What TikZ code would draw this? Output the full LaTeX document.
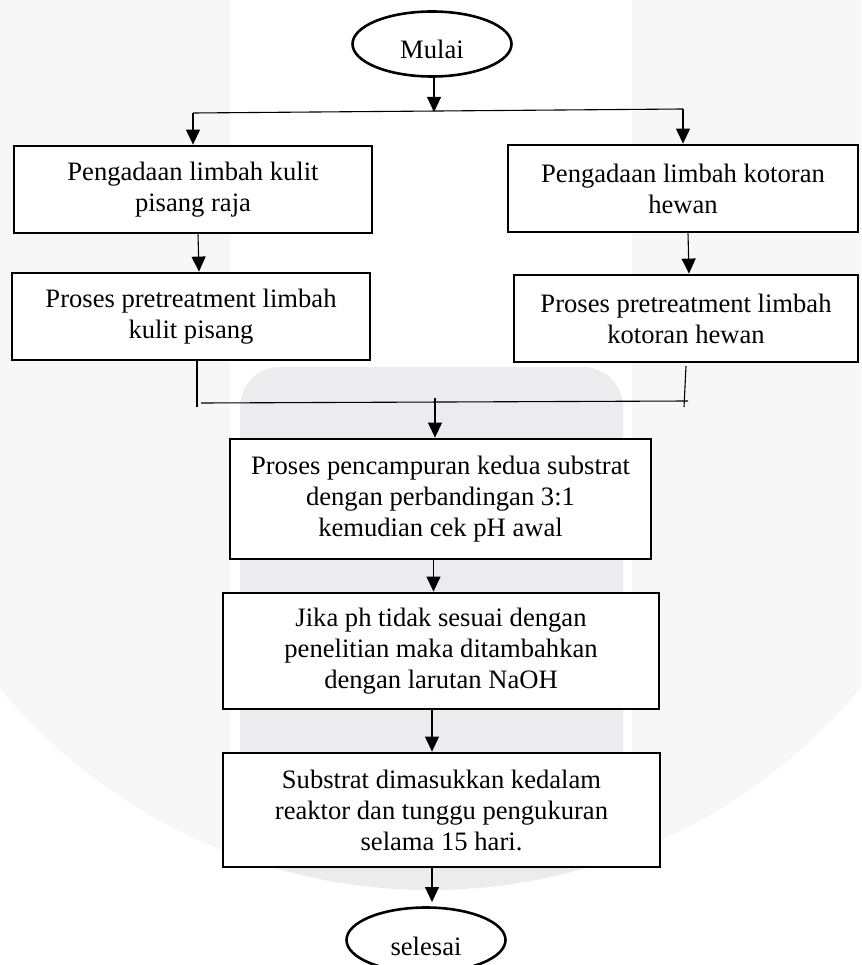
\documentclass[tikz,border=0pt]{standalone}
\usepackage{fontspec}
\setmainfont{Liberation Serif}
\usetikzlibrary{arrows.meta,shapes.geometric,calc}
\definecolor{wmlight}{HTML}{F7F7F7}
\definecolor{wmband}{HTML}{ECECEE}
\begin{document}
\begin{tikzpicture}[x=1pt,y=-1pt,
  box/.style={draw,fill=white,line width=2.8pt,rectangle,align=center,inner sep=0pt,font=\fontsize{26.6}{31}\selectfont},
  term/.style={draw,fill=white,line width=2.6pt,ellipse,inner sep=0pt,minimum width=159pt,minimum height=65pt,text height=30pt,text depth=0pt,font=\fontsize{26.6}{31}\selectfont},
  conn/.style={line width=1.1pt},
  arr/.style={conn,-{Triangle[width=14pt,length=15pt]}}]
\useasboundingbox (0,0) rectangle (861,965);
% watermark background
\begin{scope}
  \clip (0,0) rectangle (861,965);
  \fill[white] (0,0) rectangle (861,965);
  \fill[wmlight] (430,330) circle[radius=560pt];
  \fill[white] (230,-5) rectangle (632,890);
  \begin{scope}
    \clip (430,330) circle[radius=560pt];
    \fill[wmband,rounded corners=40pt] (240,980) -- (240,367) -- (623,367) -- (623,980) -- cycle;
  \end{scope}
\end{scope}
% nodes
\node[term] (mulai) at (432,44) {Mulai};
\node[box,minimum width=358pt,minimum height=87pt] (b1) at (193,189.5) {Pengadaan limbah kulit\\pisang raja};
\node[box,minimum width=350pt,minimum height=87pt] (b2) at (683,188.5) {Pengadaan limbah kotoran\\hewan};
\node[box,minimum width=358pt,minimum height=87pt] (b3) at (191,316.5) {Proses pretreatment limbah\\kulit pisang};
\node[box,minimum width=344pt,minimum height=87pt] (b4) at (686,318.5) {Proses pretreatment limbah\\kotoran hewan};
\node[box,minimum width=421pt,minimum height=120pt] (b5) at (440.5,499) {Proses pencampuran kedua substrat\\dengan perbandingan 3:1\\kemudian cek pH awal};
\node[box,minimum width=436pt,minimum height=116pt] (b6) at (441,651) {Jika ph tidak sesuai dengan\\penelitian maka ditambahkan\\dengan larutan NaOH};
\node[box,minimum width=437pt,minimum height=114pt] (b7) at (441.5,810) {Substrat dimasukkan kedalam\\reaktor dan tunggu pengukuran\\selama 15 hari.};
\node[term] (sel) at (426,940) {selesai};
% split
\coordinate (j0) at (434,112);
\coordinate (jl) at (193,113);
\coordinate (jr) at (683,109);
\draw[arr] (mulai.south -| j0) -- (j0);
\draw[conn] (jl) -- (jr);
\draw[arr] (jl) -- (jl |- b1.north);
\draw[arr] (jr) -- (jr |- b2.north);
\draw[arr] ([xshift=5pt]b1.south) -- ([xshift=8pt]b3.north);
\draw[arr] ([xshift=5pt]b2.south) -- ([xshift=3pt]b4.north);
% merge
\coordinate (ml) at (197,407);
\coordinate (mh1) at (201,403);
\coordinate (mh2) at (688,401);
\coordinate (mr0) at (686,366);
\coordinate (mr1) at (684,407);
\coordinate (mj) at (435,398);
\draw[conn] (b3.south -| ml) -- (ml);
\draw[conn] (mh1) -- (mh2);
\draw[conn] (mr0) -- (mr1);
\draw[arr] (mj) -- (mj |- b5.north);
% sequence
\draw[arr] ([xshift=-7pt]b5.south) -- ([xshift=-7pt]b5.south |- b6.north);
\draw[arr] ([xshift=-9pt]b6.south) -- ([xshift=-9pt]b6.south |- b7.north);
\coordinate (se) at (432,902);
\draw[arr] (b7.south -| se) -- (se);
\end{tikzpicture}
\end{document}
